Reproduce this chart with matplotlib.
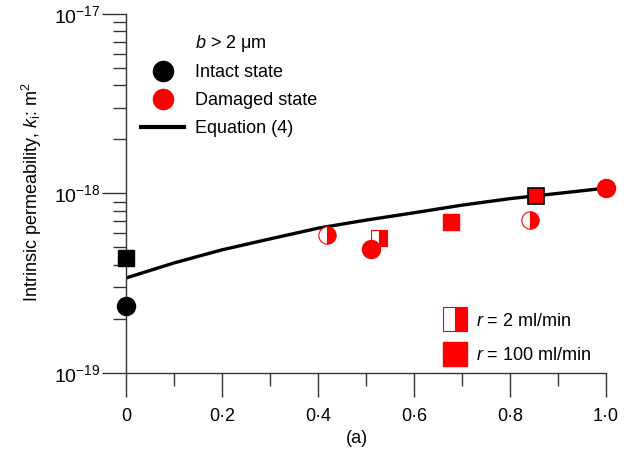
import numpy as np
import matplotlib
matplotlib.use("Agg")
import matplotlib.pyplot as plt
from matplotlib.lines import Line2D
from matplotlib.ticker import FixedLocator, NullFormatter

plt.rcParams["font.family"] = ["Liberation Sans", "DejaVu Sans"]
plt.rcParams["mathtext.fontset"] = "custom"
plt.rcParams["mathtext.rm"] = "Liberation Sans"
plt.rcParams["mathtext.it"] = "Liberation Sans:italic"

# Equation (4) curve
eq_x = [0.0, 0.1, 0.2, 0.3, 0.4, 0.5, 0.6, 0.7, 0.8, 0.9, 1.0]
eq_k = [3.38e-19, 4.1e-19, 4.85e-19, 5.58e-19, 6.4e-19, 7.1e-19, 7.8e-19, 8.6e-19, 9.35e-19, 1.0e-18, 1.07e-18]

# intact state
intact_circle_x, intact_circle_k = [0.0], [2.36e-19]
intact_square_x, intact_square_k = [0.0], [4.37e-19]

# damaged state, r = 2 ml/min (half filled)
dmg_half_circle_x = [0.419, 0.842]
dmg_half_circle_k = [5.9e-19, 7.1e-19]
dmg_half_square_x = [0.527]
dmg_half_square_k = [5.65e-19]

# damaged state, r = 100 ml/min (filled)
dmg_circle_x = [0.51, 1.0]
dmg_circle_k = [4.9e-19, 1.07e-18]
dmg_square_x = [0.677]
dmg_square_k = [6.95e-19]
dmg_square_edge_x = [0.854]
dmg_square_edge_k = [9.7e-19]

y_major = [1e-19, 1e-18, 1e-17]
y_labels = ["$10^{-19}$", "$10^{-18}$", "$10^{-17}$"]
x_major = [0, 0.2, 0.4, 0.6, 0.8, 1.0]
x_minor = [0.1, 0.3, 0.5, 0.7, 0.9]
x_labels = ["0", "0·2", "0·4", "0·6", "0·8", "1·0"]

RED = "#ff0000"
AX = "#333333"
FS = 13

fig = plt.figure(figsize=(6.4, 4.61), dpi=100)
ax = fig.add_axes([0.197, 0.191, 0.750, 0.779])

ax.plot(eq_x, eq_k, color="black", lw=2.4, zorder=2)

kw = dict(linestyle="none", clip_on=False, zorder=3)
ax.plot(intact_circle_x, intact_circle_k, marker="o", ms=13, color="black", **kw)
ax.plot(intact_square_x, intact_square_k, marker="s", ms=12, color="black", **kw)
ax.plot(dmg_half_circle_x, dmg_half_circle_k, marker="o", ms=12.5, fillstyle="right",
        markerfacecolor=RED, markerfacecoloralt="white", markeredgecolor=RED, mew=0.8, **kw)
ax.plot(dmg_half_square_x, dmg_half_square_k, marker="s", ms=12, fillstyle="right",
        markerfacecolor=RED, markerfacecoloralt="white", markeredgecolor=RED, mew=0.8, **kw)
ax.plot(dmg_circle_x, dmg_circle_k, marker="o", ms=13, color=RED, **kw)
ax.plot(dmg_square_x, dmg_square_k, marker="s", ms=12, color=RED, **kw)
ax.plot(dmg_square_edge_x, dmg_square_edge_k, marker="s", ms=12, markerfacecolor=RED,
        markeredgecolor="black", mew=1.2, **kw)

ax.set_yscale("log")
ax.set_ylim(1e-19, 1e-17)
ax.set_xlim(0, 1.0)

ax.spines["top"].set_visible(False)
ax.spines["right"].set_visible(False)
for s in ("left", "bottom"):
    ax.spines[s].set_color(AX)
    ax.spines[s].set_linewidth(1.0)

ax.xaxis.set_major_locator(FixedLocator(x_major))
ax.xaxis.set_minor_locator(FixedLocator(x_minor))
ax.set_xticklabels(x_labels)
y_minor = [m * 10.0 ** e for e in (-19, -18) for m in range(2, 10)]
ax.yaxis.set_major_locator(FixedLocator(y_major))
ax.yaxis.set_minor_locator(FixedLocator(y_minor))
ax.yaxis.set_minor_formatter(NullFormatter())
ax.set_yticklabels(y_labels)
ax.tick_params(axis="both", which="major", direction="out", length=17, width=1.0,
               color=AX, labelsize=FS)
ax.tick_params(axis="x", which="major", pad=8)
ax.tick_params(axis="y", which="major", pad=1.5, labelsize=14)
ax.tick_params(axis="x", which="minor", direction="out", length=9, width=1.0, color=AX)
ax.tick_params(axis="y", which="minor", direction="out", length=9.5, width=1.0, color=AX)

ax.set_ylabel("Intrinsic permeability, $k_\\mathrm{i}$: m$^2$", fontsize=FS)
ax.yaxis.set_label_coords(-0.17, 0.504)
ax.set_xlabel("(a)", fontsize=FS)
ax.xaxis.set_label_coords(0.481, -0.16)

h_head = Line2D([], [], linestyle="none")
h_int = Line2D([], [], linestyle="none", marker="o", ms=14.5, color="black")
h_dmg = Line2D([], [], linestyle="none", marker="o", ms=14.5, color=RED)
h_eq = Line2D([], [], color="black", lw=3)
leg1 = ax.legend([h_head, h_int, h_dmg, h_eq],
                 ["$b$ > 2 μm", "Intact state", "Damaged state", "Equation (4)"],
                 loc="upper left", bbox_to_anchor=(0.031, 0.948), frameon=False,
                 fontsize=FS, handlelength=2.4, handletextpad=0.6, labelspacing=0.6,
                 borderpad=0, borderaxespad=0)
ax.add_artist(leg1)

h_r2 = Line2D([], [], linestyle="none", marker="s", ms=17.5, fillstyle="right",
              markerfacecolor=RED, markerfacecoloralt="white", markeredgecolor=RED, mew=0.8)
h_r100 = Line2D([], [], linestyle="none", marker="s", ms=17.5, color=RED)
ax.legend([h_r2, h_r100], ["$r$ = 2 ml/min", "$r$ = 100 ml/min"],
          loc="lower left", bbox_to_anchor=(0.659, 0.025), frameon=False,
          fontsize=FS, handlelength=1.4, handletextpad=0.47, labelspacing=0.95,
          borderpad=0, borderaxespad=0)

fig.savefig("out.png", dpi=100)
